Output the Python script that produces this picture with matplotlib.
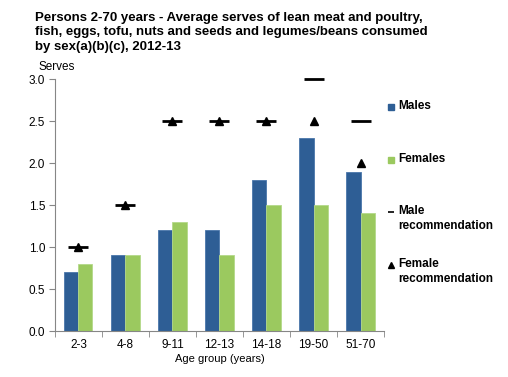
import matplotlib.pyplot as plt
from matplotlib.lines import Line2D
import numpy as np

plt.rcParams['font.family'] = ['Liberation Sans', 'DejaVu Sans']

ages = ['2-3', '4-8', '9-11', '12-13', '14-18', '19-50', '51-70']
males = [0.7, 0.9, 1.2, 1.2, 1.8, 2.3, 1.9]
females = [0.8, 0.9, 1.3, 0.9, 1.5, 1.5, 1.4]
male_rec = [1.0, 1.5, 2.5, 2.5, 2.5, 3.0, 2.5]
female_rec = [1.0, 1.5, 2.5, 2.5, 2.5, 2.5, 2.0]

blue = '#2E5E95'
green = '#9BC95F'
grey = '#868686'

fig = plt.figure(figsize=(5.08, 3.77), dpi=100)
ax = fig.add_axes([0.108, 0.122, 0.648, 0.668])

x = np.arange(len(ages))
w = 0.3
ax.bar(x - w/2, males, w, color=blue, edgecolor='#4a76aa', linewidth=0.6)
ax.bar(x + w/2, females, w, color=green, edgecolor='#b4d98a', linewidth=0.6)
ax.plot(x, male_rec, linestyle='', marker='_', markersize=15, markeredgewidth=2.0,
        color='black', clip_on=False)
ax.plot(x, female_rec, linestyle='', marker='^', markersize=5.5, color='black',
        clip_on=False)

ax.set_xlim(-0.5, len(ages) - 0.5)
ax.set_ylim(0, 3.0)
ax.set_yticks(np.arange(0, 3.01, 0.5))
ax.set_yticklabels(['%.1f' % v for v in np.arange(0, 3.01, 0.5)], fontsize=8.5)
ax.set_xticks(x)
ax.set_xticklabels(ages, fontsize=8.5)
ax.set_xticks(np.arange(-0.5, len(ages)), minor=True)
ax.tick_params(axis='x', which='major', length=0, pad=6)
ax.tick_params(axis='x', which='minor', length=4, color=grey, direction='out')
ax.tick_params(axis='y', length=4, color=grey, direction='out', pad=3)
for s in ['top', 'right']:
    ax.spines[s].set_visible(False)
for s in ['left', 'bottom']:
    ax.spines[s].set_color(grey)

ax.set_xlabel('Age group (years)', fontsize=8, labelpad=2)
fig.text(0.075, 0.815, 'Serves', fontsize=8.5)

fig.text(0.069, 0.968, 'Persons 2-70 years - Average serves of lean meat and poultry,\n'
         'fish, eggs, tofu, nuts and seeds and legumes/beans consumed\n'
         'by sex(a)(b)(c), 2012-13', fontsize=9.5, fontweight='bold',
         va='top', linespacing=1.25)

# legend, placed by hand so the two-line entries keep even spacing
H = 377.0
entries = [
    ('Males', 107, dict(marker='s', markersize=5, color=blue)),
    ('Females', 160, dict(marker='s', markersize=5, color=green)),
    ('Male\nrecommendation', 212, dict(marker='_', markersize=5, markeredgewidth=1.2, color='black')),
    ('Female\nrecommendation', 265, dict(marker='^', markersize=4, color='black')),
]
for label, ypix, mk in entries:
    yf = 1 - ypix / H
    fig.add_artist(Line2D([391 / 508.0], [yf], linestyle='', transform=fig.transFigure, **mk))
    fig.text(398 / 508.0, 1 - (ypix - 7) / H, label, fontsize=8.5, fontweight='bold',
             va='top', linespacing=1.3, transform=fig.transFigure)

fig.savefig('out.png', dpi=100)
